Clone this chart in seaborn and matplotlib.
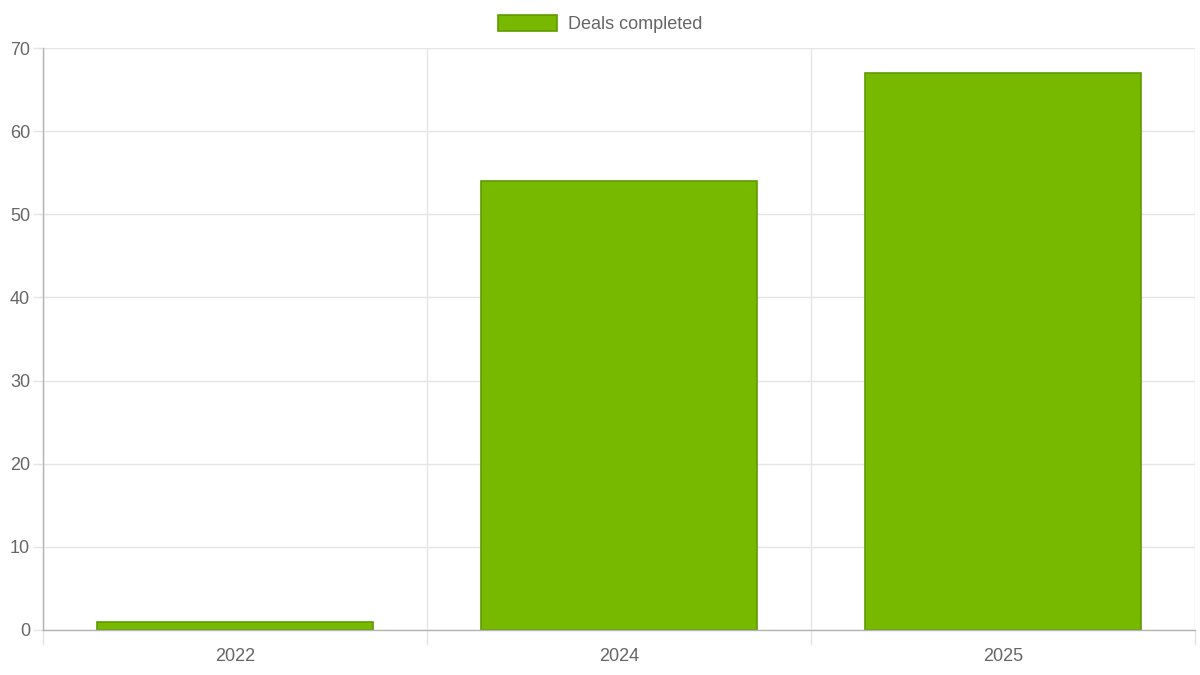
import pandas as pd
import numpy as np
import matplotlib.pyplot as plt
import matplotlib.ticker as mticker
import seaborn as sns

years = ["2022", "2024", "2025"]
deals = [1, 54, 67]

df = pd.DataFrame({"year": years, "deals": deals})

sns.set_theme(style="white")
plt.rcParams["font.family"] = ["Liberation Sans", "DejaVu Sans"]

GREEN = "#77b800"
EDGE = "#5f9a00"
TEXT = "#666666"
GRID = "#e5e5e5"
AXIS = "#b3b3b3"

fig = plt.figure(figsize=(12, 6.75), dpi=100)
ax = fig.add_axes([43 / 1200, 45 / 675, 1152 / 1200, 582 / 675])

sns.barplot(data=df, x="year", y="deals", color=GREEN, saturation=1,
            width=0.72, edgecolor=EDGE, linewidth=1.2, ax=ax,
            label="Deals completed")

ax.set_xlim(-0.5, len(years) - 0.5)
ax.set_ylim(0, 70)
ax.yaxis.set_major_locator(mticker.MultipleLocator(10))
ax.xaxis.set_minor_locator(mticker.FixedLocator(np.arange(-0.5, len(years), 1.0)))

ax.grid(axis="y", which="major", color=GRID, linewidth=1)
ax.grid(axis="x", which="minor", color=GRID, linewidth=1)
ax.set_axisbelow(True)

ax.tick_params(axis="x", which="major", length=0, pad=13, labelsize=13, labelcolor=TEXT)
ax.tick_params(axis="x", which="minor", length=10.8, width=1, color=GRID, bottom=True)
ax.tick_params(axis="y", which="major", length=7.2, width=1, color=GRID, pad=2,
               labelsize=13, labelcolor=TEXT, left=True)

for side in ["top", "right"]:
    ax.spines[side].set_visible(False)
for side in ["left", "bottom"]:
    ax.spines[side].set_color(AXIS)
    ax.spines[side].set_linewidth(1)

ax.set_xlabel("")
ax.set_ylabel("")
if ax.get_legend():
    ax.get_legend().remove()

handles, labels = ax.get_legend_handles_labels()
fig.legend(handles[:1], labels[:1], loc="center", bbox_to_anchor=(0.5, 1 - 24 / 675),
           frameon=False, fontsize=13, labelcolor=TEXT, handlelength=3.3,
           handleheight=1.0, handletextpad=0.6, borderpad=0)

plt.savefig("out.png", dpi=100)
plt.close()
